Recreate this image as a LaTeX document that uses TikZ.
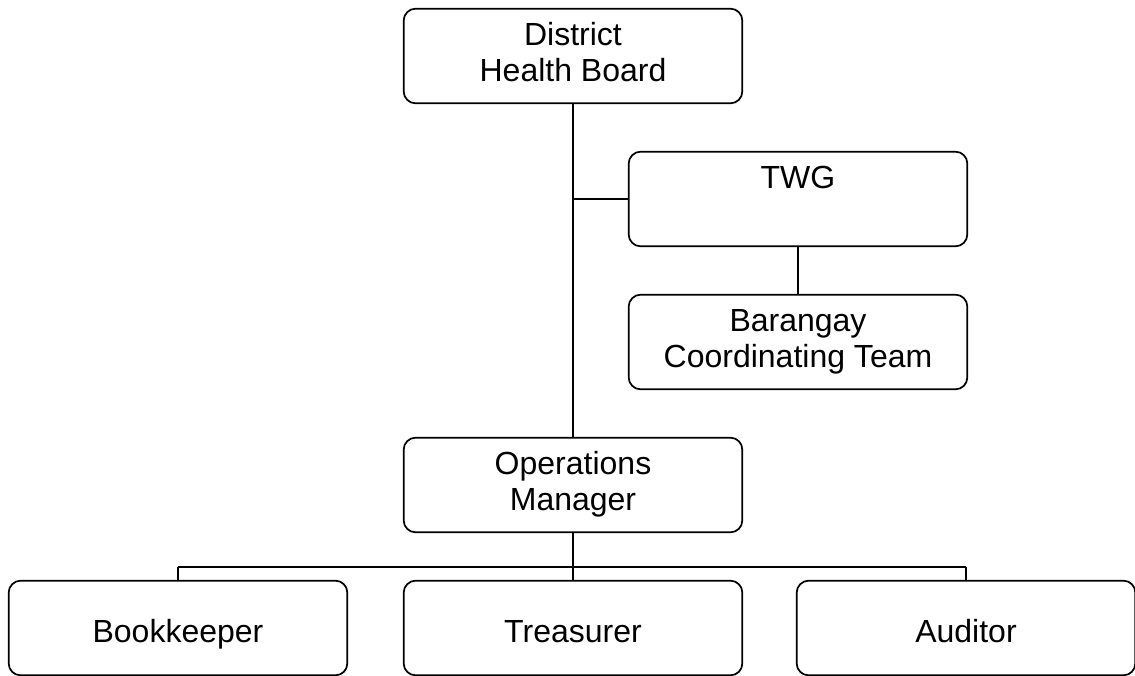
\documentclass[tikz,border=0pt]{standalone}
\usepackage{fontspec}
\setmainfont{Liberation Sans}
\usepackage{tikz}
\usetikzlibrary{positioning}

\tikzset{
  unitbox/.style={draw, rounded corners=9pt, line width=1.3pt,
    minimum width=254pt, minimum height=71pt, inner sep=0pt, align=center,
    font=\fontsize{24}{27.5}\selectfont},
  staffbox/.style={unitbox, text height=23pt, text depth=2pt},
  link/.style={line width=1.6pt}
}

\begin{document}
\begin{tikzpicture}[x=0.75pt, y=-0.75pt]
  % Page frame
  \useasboundingbox (0,0) rectangle (1135,675);

  % Top of the chart
  \node[unitbox] (dhb) at (573,56) {\strut District\\\strut Health Board};

  % Side branch
  \node[unitbox] (twg) at (798,199) {\strut TWG\\\strut};
  \node[unitbox] (bct) at (798,342) {\strut Barangay\\\strut Coordinating Team};

  % Manager
  \node[unitbox] (om) at (573,485) {\strut Operations\\\strut Manager};

  % Staff row
  \node[staffbox] (book) at (178,628) {Bookkeeper};
  \node[staffbox] (treas) at (573,628) {Treasurer};
  \node[staffbox] (aud) at (966,628) {Auditor};

  % Bus over the staff row
  \coordinate (bus) at (573,567);

  % Main line and side branch
  \draw[link] (dhb.south) -- (om.north);
  \draw[link] (twg.west) -- (twg.west -| dhb.south);
  \draw[link] (twg.south) -- (bct.north);

  % Staff links
  \draw[link] (om.south) -- (bus);
  \draw[link] (bus -| book.north) -- (bus -| aud.north);
  \draw[link] (bus -| book.north) -- (book.north);
  \draw[link] (bus) -- (treas.north);
  \draw[link] (bus -| aud.north) -- (aud.north);

\end{tikzpicture}
\end{document}
